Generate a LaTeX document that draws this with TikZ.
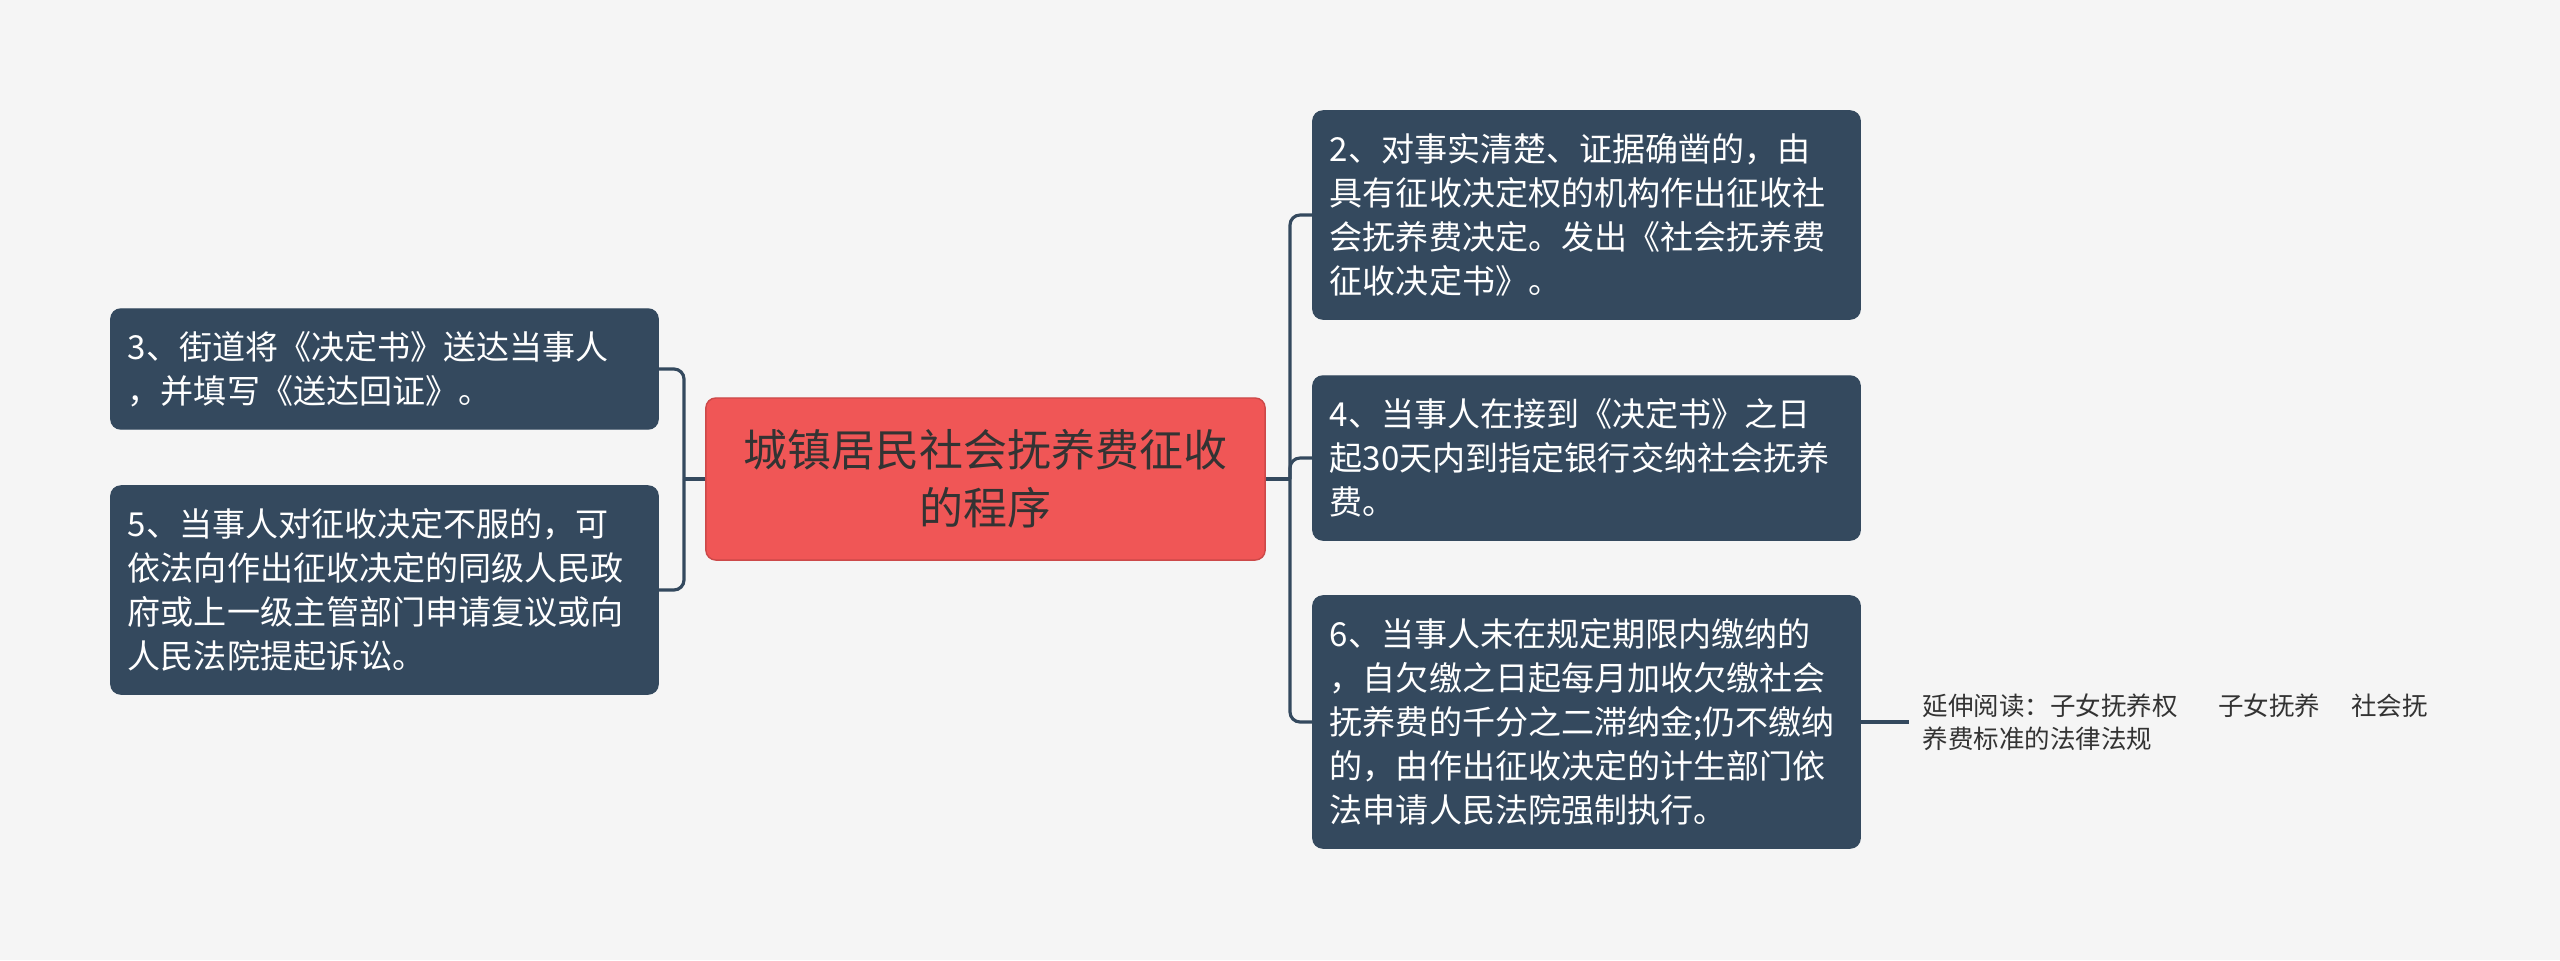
\documentclass[tikz,border=0pt]{standalone}
\usepackage{fontspec}
\setmainfont{Noto Sans CJK SC}
\definecolor{bgcol}{HTML}{F5F5F5}
\definecolor{boxcol}{HTML}{34495E}
\definecolor{rootcol}{HTML}{F05656}
\definecolor{txtcol}{HTML}{333333}
\begin{document}
\begin{tikzpicture}[
            x=0.01cm, y=-0.01cm,
            root/.style={rectangle, rounded corners=0.1cm, fill=rootcol, draw=rootcol!85!black, line width=0.4pt,
                    text=txtcol, minimum width=5.59cm, minimum height=1.62cm, align=center,
                    font=\fontsize{12.5pt}{16.5pt}\selectfont},
            leaf/.style={rectangle, rounded corners=0.1cm, fill=boxcol, draw=boxcol, line width=0.4pt,
                    text=white, text width=5.13cm, inner xsep=0.17cm, align=left,
                    font=\fontsize{9.4pt}{12.5pt}\selectfont},
            note/.style={text=txtcol, inner xsep=0.13cm, align=left,
                    font=\fontsize{7.25pt}{9.4pt}\selectfont},
            link/.style={draw=boxcol, line width=0.9pt, rounded corners=0.1cm}
        ]
        \fill[bgcol] (0,0) rectangle (2560,960);
        \useasboundingbox (0,0) rectangle (2560,960);

        \node[root] (root) at (985.5,479) {城镇居民社会抚养费征收\\的程序};

        \node[leaf, minimum height=1.20cm] (s3) at (384.5,369) {3、街道将《决定书》送达当事人\\，并填写《送达回证》。};
        \node[leaf, minimum height=2.08cm] (s5) at (384.5,590) {5、当事人对征收决定不服的，可\\依法向作出征收决定的同级人民政\\府或上一级主管部门申请复议或向\\人民法院提起诉讼。};

        \node[leaf, minimum height=2.08cm] (s2) at (1586.5,215) {2、对事实清楚、证据确凿的，由\\具有征收决定权的机构作出征收社\\会抚养费决定。发出《社会抚养费\\征收决定书》。};
        \node[leaf, minimum height=1.64cm] (s4) at (1586.5,458) {4、当事人在接到《决定书》之日\\起30天内到指定银行交纳社会抚养\\费。};
        \node[leaf, minimum height=2.52cm] (s6) at (1586.5,722) {6、当事人未在规定期限内缴纳的\\，自欠缴之日起每月加收欠缴社会\\抚养费的千分之二滞纳金;仍不缴纳\\的，由作出征收决定的计生部门依\\法申请人民法院强制执行。};

        \node[note, anchor=west] (ext) at (1909,722) {延伸阅读：子女抚养权\hspace{1.6em}子女抚养\hspace{1.2em}社会抚\\养费标准的法律法规};

        % joints
        \coordinate (jl) at (684,479);
        \coordinate (jr) at (1290,479);

        \draw[link] (root.west) -- (jl);
        \draw[link] (jl) |- (s3.east);
        \draw[link] (jl) |- (s5.east);

        \draw[link] (root.east) -- (jr);
        \draw[link] (jr) |- (s2.west);
        \draw[link] (jr) |- (s4.west);
        \draw[link] (jr) |- (s6.west);

        \draw[link] (s6.east) -- (ext.west);
    \end{tikzpicture}
\end{document}
